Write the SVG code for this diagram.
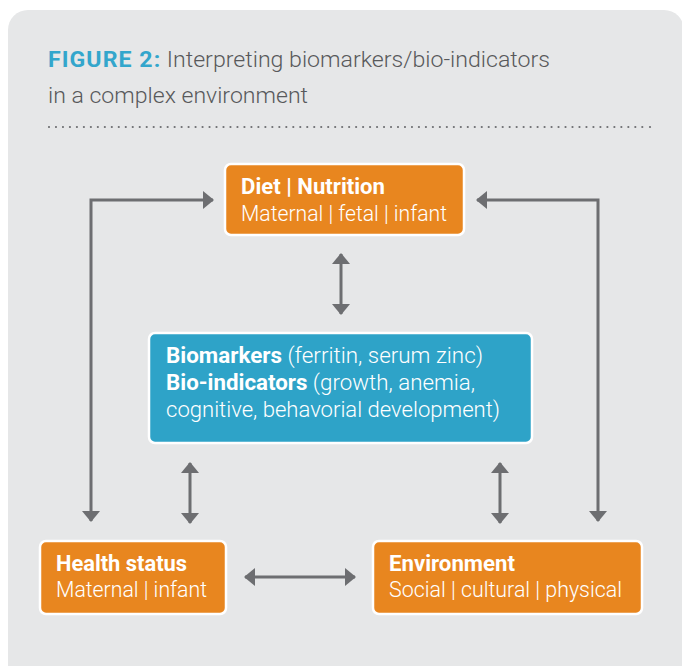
<svg xmlns="http://www.w3.org/2000/svg" width="682" height="666" viewBox="0 0 682 666">
<style>
.t{font-family:Roboto,"Liberation Sans",sans-serif;}
.b{font-weight:700;}
.l{font-weight:300;}
.box{stroke:#ffffff;stroke-width:2.5;}
.or{fill:#e8861f;}
.bl{fill:#2ea3c8;}
.wt{fill:#ffffff;font-size:22px;}
.con{fill:none;stroke:#6d6e71;stroke-width:3;marker-start:url(#ah);marker-end:url(#ah);}
</style>
<defs>
<marker id="ah" viewBox="0 0 11 18" refX="10" refY="9" markerWidth="11" markerHeight="18" orient="auto-start-reverse" markerUnits="userSpaceOnUse">
<path d="M0,0 L11,9 L0,18 z" fill="#6d6e71"/>
</marker>
</defs>
<rect x="8" y="10" width="676" height="680" rx="20" fill="#e6e7e8"/>
<g id="title">
<text class="t" x="48" y="67" font-size="22" textLength="502" lengthAdjust="spacingAndGlyphs"><tspan class="b" fill="#33a6cc" letter-spacing="1">FIGURE 2:</tspan><tspan class="l" fill="#58595b"> Interpreting biomarkers/bio-indicators</tspan></text>
<text class="t l" x="48" y="103" font-size="22" fill="#58595b" textLength="260" lengthAdjust="spacingAndGlyphs">in a complex environment</text>
<line x1="49" y1="127" x2="645" y2="127" stroke="#6d6e71" stroke-width="2.2" stroke-linecap="round" stroke-dasharray="0 6.98"/>
<circle cx="650" cy="127" r="1.1" fill="#6d6e71"/>
</g>
<g id="connectors">
<path class="con" d="M91,521 V200 H213"/>
<path class="con" d="M598,521 V200 H477"/>
<path class="con" d="M341,254 V314"/>
<path class="con" d="M190,463 V523"/>
<path class="con" d="M500,463 V523"/>
<path class="con" d="M245,577 H355"/>
</g>
<g id="diet">
<rect class="box or" x="225" y="164" width="239" height="71" rx="6"/>
<text class="t b wt" x="241" y="194" textLength="144" lengthAdjust="spacingAndGlyphs">Diet | Nutrition</text>
<text class="t l wt" x="241" y="221" textLength="206" lengthAdjust="spacingAndGlyphs">Maternal | fetal | infant</text>
</g>
<g id="biomarkers">
<rect class="box bl" x="149" y="333" width="383" height="110" rx="6"/>
<text class="t wt" x="166" y="363" textLength="317" lengthAdjust="spacingAndGlyphs"><tspan class="b">Biomarkers</tspan><tspan class="l"> (ferritin, serum zinc)</tspan></text>
<text class="t wt" x="166" y="390" textLength="309" lengthAdjust="spacingAndGlyphs"><tspan class="b">Bio-indicators</tspan><tspan class="l"> (growth, anemia,</tspan></text>
<text class="t l wt" x="166" y="417" textLength="334" lengthAdjust="spacingAndGlyphs">cognitive, behavorial development)</text>
</g>
<g id="health">
<rect class="box or" x="40" y="541" width="186" height="73" rx="6"/>
<text class="t b wt" x="56" y="571" textLength="131" lengthAdjust="spacingAndGlyphs">Health status</text>
<text class="t l wt" x="56" y="597" textLength="151" lengthAdjust="spacingAndGlyphs">Maternal | infant</text>
</g>
<g id="environment">
<rect class="box or" x="373" y="541" width="269" height="73" rx="6"/>
<text class="t b wt" x="389" y="571" textLength="126" lengthAdjust="spacingAndGlyphs">Environment</text>
<text class="t l wt" x="389" y="597" textLength="233" lengthAdjust="spacingAndGlyphs">Social | cultural | physical</text>
</g>
</svg>
